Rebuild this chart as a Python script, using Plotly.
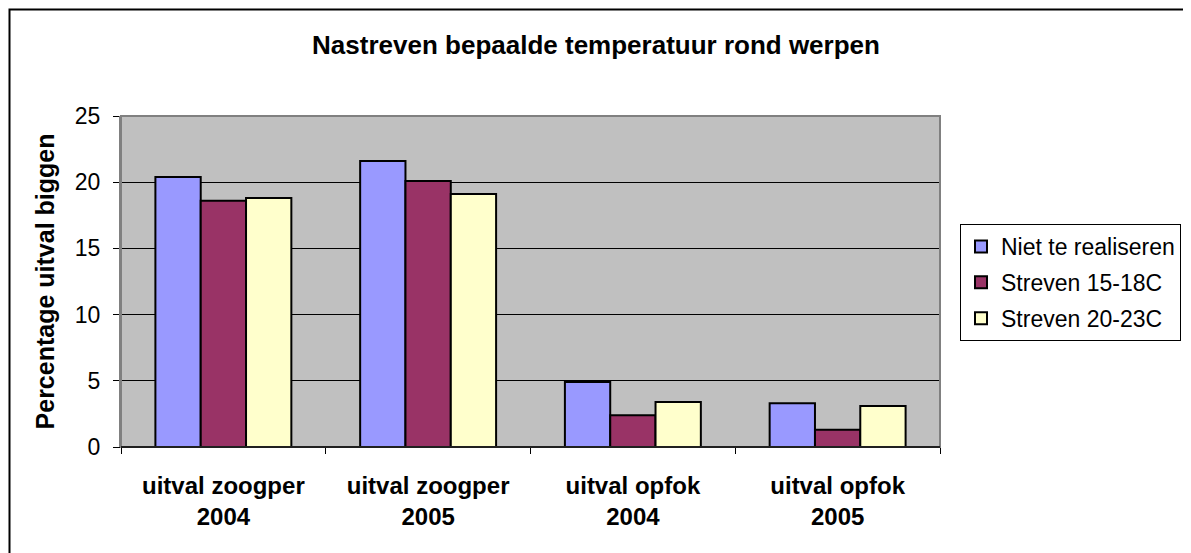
import plotly.graph_objects as go

categories = ["uitval zoogper<br>2004", "uitval zoogper<br>2005", "uitval opfok<br>2004", "uitval opfok<br>2005"]
niet_te_realiseren = [20.4, 21.6, 4.9, 3.3]
streven_15_18 = [18.6, 20.1, 2.4, 1.3]
streven_20_23 = [18.8, 19.1, 3.4, 3.1]
series_names = ["Niet te realiseren", "Streven 15-18C", "Streven 20-23C"]
y_ticks = [0, 5, 10, 15, 20, 25]

FONT = "Liberation Sans, Arial, sans-serif"
colors = ["#9999FF", "#993366", "#FFFFCC"]
values = [niet_te_realiseren, streven_15_18, streven_20_23]

fig = go.Figure()
for i, (name, vals) in enumerate(zip(series_names, values)):
    fig.add_trace(go.Bar(
        x=categories, y=vals, name=name, legendgroup=name,
        marker=dict(color=colors[i], line=dict(color="black", width=2)),
    ))

OFF = 8  # page body offset
W, H = 1191 - OFF, 553 - OFF
L, T = 121 - OFF, 116 - OFF
pw, ph = 819, 331
R, B = W - L - pw, H - T - ph

fig.update_layout(
    width=W, height=H,
    margin=dict(l=L, r=R, t=T, b=B, autoexpand=False),
    paper_bgcolor="white", plot_bgcolor="#C0C0C0",
    barmode="group", bargap=0.336, bargroupgap=0,
    font=dict(family=FONT, size=23, color="black"),
    title=dict(text="<b>Nastreven bepaalde temperatuur rond werpen</b>",
               x=(596 - OFF) / W, xref="container", xanchor="center",
               y=1 - (45 - OFF) / H, yref="container", yanchor="middle",
               font=dict(family=FONT, size=26, color="black")),
    legend=dict(x=(960 - 121) / pw, xanchor="left", y=(447 - 224) / ph, yanchor="top",
                bordercolor="black", borderwidth=1, bgcolor="white",
                font=dict(family=FONT, size=23), tracegroupgap=3,
                itemwidth=30),
    showlegend=True,
)
fig.update_xaxes(
    type="category", tickson="boundaries", ticks="outside", ticklen=6,
    tickcolor="black", showline=True, linecolor="black", linewidth=1,
    showgrid=False, tickfont=dict(family=FONT, size=24, color="black"),
    ticktext=["<b>" + c.replace("<br>", "</b><br><b>") + "</b>" for c in categories],
    tickvals=categories, ticklabelstandoff=17,
)
fig.update_yaxes(
    range=[0, 25], tickvals=y_ticks, ticks="outside", ticklen=6, tickcolor="black",
    showgrid=True, gridcolor="black", gridwidth=1, zeroline=False,
    showline=True, linecolor="#808080", linewidth=2,
    tickfont=dict(family=FONT, size=23, color="black"), ticklabelstandoff=8,
    title=dict(text="<b>Percentage uitval biggen</b>", font=dict(family=FONT, size=25), standoff=13),
)
# plot area border (gray)
fig.add_shape(type="rect", xref="paper", yref="paper", x0=0, x1=1, y0=0, y1=1,
              line=dict(color="#808080", width=2), layer="above")
fig.add_shape(type="line", xref="paper", yref="paper", x0=0, x1=1, y0=0, y1=0,
              line=dict(color="black", width=1.5), layer="above")
# outer chart border (left and top edges visible)
fig.add_shape(type="rect", xref="paper", yref="paper",
              x0=(OFF + 1.5 - 121) / pw, x1=1.6, y0=-0.6, y1=(447 - OFF - 1.5) / ph,
              line=dict(color="black", width=2))

fig.write_html("out.html")
